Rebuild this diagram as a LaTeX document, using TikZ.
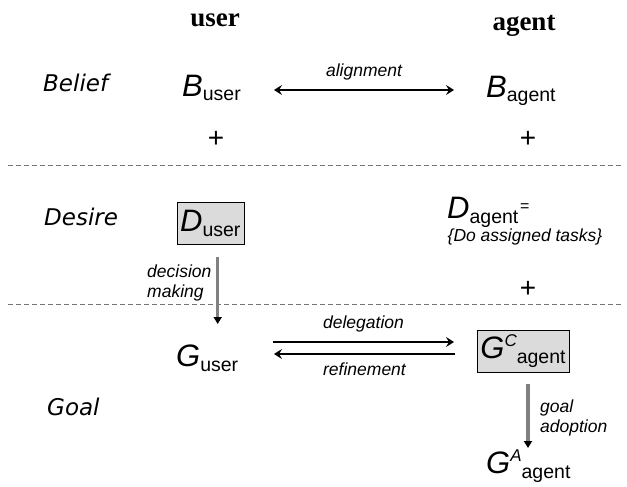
\documentclass[tikz,border=0pt]{standalone}
\usepackage{fontspec}
\setmainfont{Liberation Sans}
\newfontfamily\hdfont{Liberation Serif}
\newfontfamily\rowfont{DejaVu Sans}
\usetikzlibrary{arrows.meta}
\newcommand\XSym[1]{{\fontsize{31}{31}\selectfont\itshape #1}}
\newcommand\XSub[1]{\raisebox{-5pt}{\fontsize{19.5}{20}\selectfont #1}}
\newcommand\XSup[1]{\raisebox{12pt}{\fontsize{17}{17}\selectfont\itshape #1}}
\begin{document}
\begin{tikzpicture}[x=1pt,y=-1pt,
  hd/.style={font=\hdfont\bfseries\fontsize{27}{27}\selectfont, inner sep=0pt, anchor=base},
  rowlab/.style={font=\rowfont\itshape\fontsize{23}{23}\selectfont, inner sep=0pt, anchor=base west},
  sym/.style={inner sep=0pt, anchor=base west},
  gbox/.style={draw=black, line width=0.6pt, fill=black!14, inner sep=0pt},
  lab/.style={font=\itshape\fontsize{17.5}{20}\selectfont, inner sep=0pt},
  plus/.style={font=\fontsize{28}{28}\selectfont, inner sep=0pt},
  sep/.style={draw=black!55, line width=1pt, dash pattern=on 5pt off 3pt},
  harrow/.style={line width=1.6pt, -{Stealth[length=8pt,width=10pt,inset=3pt]}},
  varrow/.style={draw=black!50, line width=3.2pt, -{Triangle[color=black,length=7pt,width=8pt]}}
]
\useasboundingbox (0,0) rectangle (627,487);

% headers
\node[hd] (huser) at (215,27) {user};
\node[hd] (hagent) at (524,31) {agent};

% row labels
\node[rowlab] (belief) at (43,92) {Belief};
\node[rowlab] (desire) at (44,225) {Desire};
\node[rowlab] (goal) at (47,415) {Goal};

% separators
\draw[sep] (8,165) -- (622,165);
\draw[sep] (8,304) -- (622,304);

% belief row
\node[sym] (buser) at (182,96) {\XSym{B}\XSub{user}};
\node[sym] (bagent) at (486,97) {\XSym{B}\XSub{agent}};
\coordinate (al1) at (274,90);
\coordinate (al2) at (454,90);
\draw[harrow, {Stealth[length=8pt,width=10pt,inset=3pt]}-{Stealth[length=8pt,width=10pt,inset=3pt]}] (al1) -- (al2)
  node[lab, midway, above=9pt] (alignment) {alignment};
\node[plus] (p1) at (216,139) {+};
\node[plus] (p2) at (528,139) {+};

% desire row
\node[gbox, minimum width=67pt, minimum height=42pt] (duser) at (210.3,223.5) {\XSym{D}\XSub{user}};
\node[sym] (dagent) at (447,218) {\XSym{D}\XSub{agent}\,\raisebox{7pt}{\fontsize{16}{16}\selectfont =}};
\node[lab, anchor=base] (tasks) at (525,241) {\{Do assigned tasks\}};
\node[plus] (p3) at (528,289) {+};

% decision making
\coordinate (d1) at (217.7,257);
\coordinate (d2) at (217.7,324);
\draw[varrow] (d1) -- (d2);
\node[lab, align=left, anchor=west] (dm) at (147,283) {decision\\making};

% goal row
\node[sym] (guser) at (176,366) {\XSym{G}\XSub{user}};
\node[gbox, minimum width=92pt, minimum height=42pt] (gcagent) at (523,351) {\XSym{G}\XSup{C}\XSub{agent}};
\coordinate (dl1) at (273,342);
\coordinate (dl2) at (454,342);
\coordinate (rf1) at (455,354);
\coordinate (rf2) at (274,354);
\draw[harrow] (dl1) -- (dl2) node[lab, midway, above=9pt] (deleg) {delegation};
\draw[harrow] (rf1) -- (rf2) node[lab, midway, below=8pt] (refin) {refinement};

\coordinate (ga1) at (528,384);
\coordinate (ga2) at (528,448);
\draw[varrow] (ga1) -- (ga2);
\node[lab, align=left, anchor=west] (gadopt) at (540,418) {goal\\adoption};

\node[sym] (gaagent) at (486,473) {\XSym{G}\XSup{A}\XSub{agent}};
\end{tikzpicture}
\end{document}
